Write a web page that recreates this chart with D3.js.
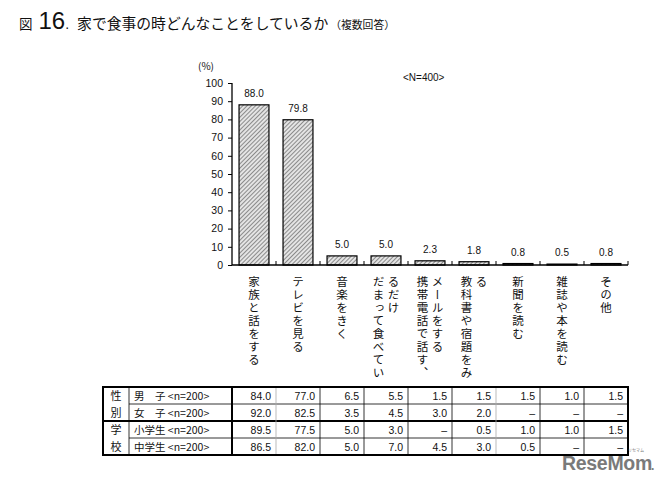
<!DOCTYPE html>
<html><head><meta charset="utf-8">
<script src="https://cdn.jsdelivr.net/npm/d3@7"></script>
<style>
html,body{margin:0;padding:0;background:#fff;}
svg{display:block;}
.vt{writing-mode:vertical-rl;text-orientation:upright;}
</style></head>
<body>
<svg id="c" width="667" height="491"></svg>
<script>
const categories = ["家族と話をする","テレビを見る","音楽をきく","だまって食べているだけ","携帯電話で話す、メールをする","教科書や宿題をみる","新聞を読む","雑誌や本を読む","その他"];
const values = [88.0, 79.8, 5.0, 5.0, 2.3, 1.8, 0.8, 0.5, 0.8];
const valueLabels = ["88.0","79.8","5.0","5.0","2.3","1.8","0.8","0.5","0.8"];
const yTicks = [0,10,20,30,40,50,60,70,80,90,100];
const groups = ["性別","学校"];
const rowLabels = ["男　子 <n=200>","女　子 <n=200>","小学生 <n=200>","中学生 <n=200>"];
const rowMale = ["84.0","77.0","6.5","5.5","1.5","1.5","1.5","1.0","1.5"];
const rowFemale = ["92.0","82.5","3.5","4.5","3.0","2.0","–","–","–"];
const rowElem = ["89.5","77.5","5.0","3.0","–","0.5","1.0","1.0","1.5"];
const rowJunior = ["86.5","82.0","5.0","7.0","4.5","3.0","0.5","–","–"];
const tableRows = [rowMale, rowFemale, rowElem, rowJunior];

const svg = d3.select("#c");
const JP = "'Noto Sans CJK JP','Noto Sans',sans-serif";
const NUM = "'Liberation Sans',Arial,sans-serif";

// Title
const t = svg.append("text").attr("x", 19).attr("y", 29).attr("fill","#111");
t.append("tspan").attr("font-family", JP).attr("font-size", 13.5).text("図");
t.append("tspan").attr("dx", 6).attr("font-family", NUM).attr("font-size", 24).text("16");
t.append("tspan").attr("font-family", NUM).attr("font-size", 14).text(".");
t.append("tspan").attr("dx", 8).attr("font-family", JP).attr("font-size", 14.8).text("家で食事の時どんなことをしているか");
t.append("tspan").attr("dx", 2).attr("font-family", JP).attr("font-size", 10.8).text("（複数回答）");

// Scales
const x = d3.scaleBand().domain(categories).range([232, 628]).paddingInner(0.32).paddingOuter(0.16);
const y = d3.scaleLinear().domain([0, 100]).range([265, 83]);

// pattern
const defs = svg.append("defs");
const pat = defs.append("pattern").attr("id","hatch").attr("patternUnits","userSpaceOnUse")
  .attr("width", 3).attr("height", 3).attr("patternTransform","rotate(45)");
pat.append("rect").attr("width",3).attr("height",3).attr("fill","#e4e4e4");
pat.append("line").attr("x1",0).attr("y1",0).attr("x2",0).attr("y2",3).attr("stroke","#333").attr("stroke-width",1);

// Bars
svg.append("g").selectAll("rect").data(values).join("rect")
  .attr("x", (d,i) => x(categories[i]))
  .attr("y", d => y(d))
  .attr("width", x.bandwidth())
  .attr("height", d => y(0) - y(d))
  .attr("fill", "url(#hatch)")
  .attr("stroke", "#000").attr("stroke-width", 1.2);

// value labels
svg.append("g").selectAll("text").data(values).join("text")
  .attr("x", (d,i) => x(categories[i]) + x.bandwidth()/2)
  .attr("y", d => y(d) - 8)
  .attr("text-anchor","middle")
  .attr("font-family", NUM).attr("font-size", 10).attr("fill","#111")
  .text((d,i) => valueLabels[i]);

// Y axis
const ya = svg.append("g").attr("transform","translate(232,0)")
  .call(d3.axisLeft(y).tickValues(yTicks).tickSize(4).tickPadding(5).tickFormat(d3.format("d")));
ya.select(".domain").attr("stroke","#000").attr("stroke-width",1.3).attr("d", `M0,${y(100)}V${y(0)}`);
ya.selectAll(".tick line").attr("stroke","#000");
ya.selectAll(".tick text").attr("font-family", NUM).attr("font-size", 10.5).attr("fill","#111");

svg.append("text").attr("x", 198).attr("y", 70).attr("font-family", JP).attr("font-size", 10).attr("fill","#111").text("(%)");
svg.append("text").attr("x", 403).attr("y", 81).attr("font-family", NUM).attr("font-size", 10).attr("fill","#111").text("<N=400>");

// X axis
const x0 = x.range()[0], x1 = x.range()[1], step = x.step();
svg.append("line").attr("x1", x0).attr("x2", x1).attr("y1", y(0)).attr("y2", y(0)).attr("stroke","#000").attr("stroke-width",1.3);
svg.append("g").selectAll("line").data(d3.range(1, categories.length + 1)).join("line")
  .attr("x1", i => x0 + i*step).attr("x2", i => x0 + i*step)
  .attr("y1", y(0)).attr("y2", y(0) - 4).attr("stroke","#000");

// Category labels (vertical)
const perCol = 8;
const lg = svg.append("g");
categories.forEach((c, i) => {
  const chars = Array.from(c);
  const cols = [];
  for (let k = 0; k < chars.length; k += perCol) cols.push(chars.slice(k, k + perCol).join(""));
  const cx = x(c) + x.bandwidth()/2;
  cols.forEach((col, j) => {
    const off = cols.length === 1 ? 0 : (j - (cols.length - 1)/2) * 15;
    lg.append("text").attr("class","vt")
      .attr("x", cx + off).attr("y", 276)
      .attr("font-family", JP).attr("font-size", 11.5).attr("letter-spacing", 1.5).attr("fill","#111")
      .text(col);
  });
});

// Table
const tTop = 387, rowH = 17;
const tb = svg.append("g");
const colEdges = d3.range(0, categories.length + 1).map(i => x0 + i*step);
tableRows.forEach((row, r) => {
  row.forEach((v, c) => {
    tb.append("text").attr("x", colEdges[c+1] - 5).attr("y", tTop + r*rowH + 12.5)
      .attr("text-anchor","end").attr("font-family", NUM).attr("font-size", 10.5).attr("fill","#111").text(v);
  });
  tb.append("text").attr("x", 134).attr("y", tTop + r*rowH + 12.5)
    .attr("font-family", JP).attr("font-size", 10.5).attr("fill","#111").text(rowLabels[r]);
});
groups.forEach((g, gi) => {
  Array.from(g).forEach((ch, k) => {
    tb.append("text").attr("x", 116).attr("y", tTop + gi*2*rowH + k*rowH + 12.5)
      .attr("text-anchor","middle").attr("font-family", JP).attr("font-size", 11).attr("fill","#111").text(ch);
  });
});
const L = (xa, ya1, xb, yb, w, col) => tb.append("line").attr("x1",xa).attr("y1",ya1).attr("x2",xb).attr("y2",yb)
  .attr("stroke", col || "#000").attr("stroke-width", w);
const tBot = tTop + 4*rowH;
L(129, tTop + rowH, x1, tTop + rowH, 0.8);
L(129, tTop + 3*rowH, x1, tTop + 3*rowH, 0.8);
L(103, tTop + 2*rowH, x1, tTop + 2*rowH, 2);
const grayCols = [1, 6];
for (let i = 1; i < categories.length; i++) {
  L(colEdges[i], tTop, colEdges[i], tBot, 0.8, grayCols.includes(i) ? "#aaa" : "#000");
}
L(129, tTop, 129, tBot, 0.8);
L(x0, tTop, x0, tBot, 2);
tb.append("rect").attr("x",103).attr("y",tTop).attr("width", x1 - 103).attr("height", 4*rowH)
  .attr("fill","none").attr("stroke","#000").attr("stroke-width",2);

// Logo
svg.append("text").attr("x", 562).attr("y", 470).attr("font-family", NUM).attr("font-weight","bold")
  .attr("font-size", 19.5).attr("fill","#7a7a7a").attr("letter-spacing", -0.3).text("ReseMom");
svg.append("text").attr("x", 651).attr("y", 470).attr("font-family", NUM).attr("font-weight","bold")
  .attr("font-size", 12).attr("fill","#7a7a7a").text(".");
svg.append("text").attr("x", 636).attr("y", 452).attr("font-family", JP)
  .attr("font-size", 4).attr("fill","#7a7a7a").attr("text-anchor","middle").text("リセマム");
</script>
</body></html>
